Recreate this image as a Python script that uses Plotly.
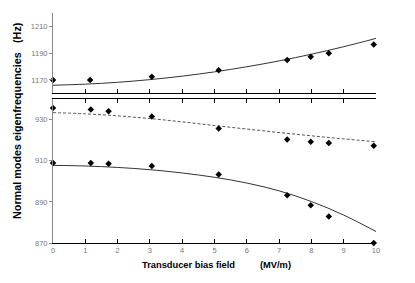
import plotly.graph_objects as go

# Top panel (upper mode)
top_x = [0, 1.15, 3.06, 5.13, 7.25, 7.98, 8.54, 9.93]
top_y = [1170, 1170, 1172.4, 1177.3, 1184.9, 1187.3, 1190, 1196.4]
top_fit_x = [0, 1, 2, 3, 4, 5, 6, 7, 8, 9, 10]
top_fit_y = [1166, 1166.8, 1168.2, 1170.2, 1172.8, 1176, 1179.8, 1184.2, 1189.2, 1194.8, 1201]

# Bottom panel, upper series
mid_x = [0, 1.17, 1.72, 3.06, 5.13, 7.25, 7.98, 8.54, 9.93]
mid_y = [935.8, 935, 934.2, 931.6, 925.7, 920.4, 919.3, 918.7, 917.4]
mid_fit_x = [0, 1, 2, 3, 4, 5, 6, 7, 8, 9, 10]
mid_fit_y = [933.5, 932.9, 931.9, 930.6, 929.0, 927.2, 925.5, 923.8, 922.2, 920.7, 919.3]

# Bottom panel, lower series
low_x = [0, 1.17, 1.72, 3.06, 5.13, 7.25, 7.98, 8.54, 9.93]
low_y = [908.9, 908.9, 908.6, 907.5, 903.4, 893.3, 888.4, 882.9, 870]
low_fit_x = [0, 1, 2, 3, 4, 5, 6, 7, 8, 9, 10]
low_fit_y = [907.8, 907.5, 906.8, 905.7, 904.1, 902.0, 899.2, 895.4, 890.2, 883.6, 875.6]

x_ticks = list(range(0, 11))
top_ticks = [1170, 1190, 1210]
bot_ticks = [870, 890, 910, 930]

tickfont = dict(family="Liberation Sans, Arial", size=7.5, color="#777777")
mk = dict(symbol="diamond", size=5, color="black")

fig = go.Figure()
fig.add_trace(go.Scatter(x=top_fit_x, y=top_fit_y, mode="lines",
                         line=dict(color="#333333", width=1, shape="spline"),
                         xaxis="x2", yaxis="y2", hoverinfo="skip"))
fig.add_trace(go.Scatter(x=top_x, y=top_y, mode="markers", marker=mk, xaxis="x2", yaxis="y2", cliponaxis=False))
fig.add_trace(go.Scatter(x=mid_fit_x, y=mid_fit_y, mode="lines",
                         line=dict(color="#555555", width=1, dash="3px,2px", shape="spline"),
                         xaxis="x", yaxis="y"))
fig.add_trace(go.Scatter(x=mid_x, y=mid_y, mode="markers", marker=mk, xaxis="x", yaxis="y", cliponaxis=False))
fig.add_trace(go.Scatter(x=low_fit_x, y=low_fit_y, mode="lines",
                         line=dict(color="#333333", width=1, shape="spline"),
                         xaxis="x", yaxis="y"))
fig.add_trace(go.Scatter(x=low_x, y=low_y, mode="markers", marker=mk, xaxis="x", yaxis="y", cliponaxis=False))

top_dom = [0.651, 1.0]
bot_dom = [0.0, 0.625]

fig.update_layout(
    width=407, height=275,
    margin=dict(l=45, r=39, t=5, b=40),
    paper_bgcolor="white", plot_bgcolor="white",
    showlegend=False,
    xaxis=dict(domain=[0, 1], anchor="y", range=[0, 10], tickvals=x_ticks, ticks="inside", ticklen=4,
               tickcolor="black", showline=True, linecolor="black", linewidth=1.2, mirror="ticks",
               showgrid=False, zeroline=False, tickfont=tickfont),
    xaxis2=dict(domain=[0, 1], anchor="y2", range=[0, 10], tickvals=x_ticks, ticks="inside", ticklen=4,
                tickcolor="black", showline=True, linecolor="black", linewidth=1.2, showticklabels=False,
                showgrid=False, zeroline=False),
    xaxis3=dict(overlaying="x2", anchor="y2", side="top", range=[0, 10], tickvals=x_ticks, ticks="inside",
                ticklen=4, tickcolor="black", showline=True, linecolor="#888888", linewidth=1,
                showticklabels=False, showgrid=False, zeroline=False),
    yaxis=dict(domain=bot_dom, anchor="x", range=[870, 940], tickvals=bot_ticks, ticks="outside", ticklen=3,
               tickcolor="#888888", showline=True, linecolor="#888888", linewidth=1, showgrid=False,
               zeroline=False, tickfont=tickfont),
    yaxis2=dict(domain=top_dom, anchor="x2", range=[1160, 1220], tickvals=top_ticks, ticks="outside",
                ticklen=3, tickcolor="#888888", showline=True, linecolor="#888888", linewidth=1,
                showgrid=False, zeroline=False, tickfont=tickfont),
    yaxis3=dict(overlaying="y", anchor="x", side="right", range=[870, 940], tickvals=bot_ticks, ticks="inside",
                ticklen=4, tickcolor="#888888", showline=True, linecolor="#888888", linewidth=1,
                showticklabels=False, showgrid=False, zeroline=False),
    yaxis4=dict(overlaying="y2", anchor="x2", side="right", range=[1160, 1220], tickvals=top_ticks,
                ticks="inside", ticklen=4, tickcolor="#888888", showline=True, linecolor="#888888",
                linewidth=1, showticklabels=False, showgrid=False, zeroline=False),
)

title_font_x = dict(family="Liberation Sans, Arial", size=9.3, color="black")
title_font_y = dict(family="Liberation Sans, Arial", size=10.8, color="black")

fig.add_annotation(text="<b>Transducer bias field</b>", xref="paper", yref="paper",
                   x=(188 - 53) / 323, y=-(265 - 243) / 230, showarrow=False, font=title_font_x,
                   xanchor="center", yanchor="middle")
fig.add_annotation(text="<b>(MV/m)</b>", xref="paper", yref="paper",
                   x=(275 - 53) / 323, y=-(265 - 243) / 230, showarrow=False, font=title_font_x,
                   xanchor="center", yanchor="middle")
fig.add_annotation(text="<b>Normal modes eigenfrequencies</b>", xref="paper", yref="paper",
                   x=(17 - 53) / 323, y=(243 - 136) / 230, showarrow=False, textangle=-90, font=title_font_y,
                   xanchor="center", yanchor="middle")
fig.add_annotation(text="<b>(Hz)</b>", xref="paper", yref="paper",
                   x=(17 - 53) / 323, y=(243 - 33) / 230, showarrow=False, textangle=-90, font=title_font_y,
                   xanchor="center", yanchor="middle")

fig.write_html("out.html")
